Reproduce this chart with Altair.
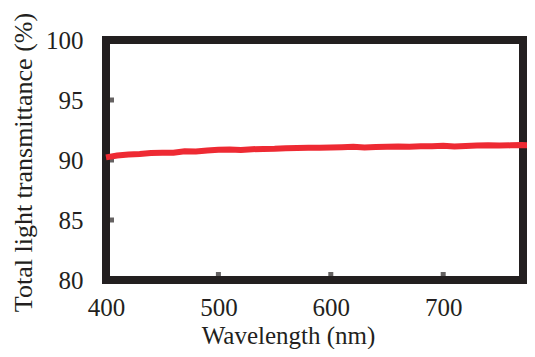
import altair as alt
import pandas as pd

wavelength = [400, 410, 420, 430, 440, 450, 460, 470, 480, 490,
              500, 510, 520, 530, 540, 550, 560, 570, 580, 590,
              600, 610, 620, 630, 640, 650, 660, 670, 680, 690,
              700, 710, 720, 730, 740, 750, 760, 770, 780]
transmittance = [90.22, 90.38, 90.45, 90.50, 90.58, 90.60, 90.60, 90.72, 90.70, 90.80,
                 90.85, 90.88, 90.84, 90.90, 90.92, 90.93, 90.98, 91.00, 91.02, 91.03,
                 91.05, 91.07, 91.10, 91.05, 91.08, 91.10, 91.12, 91.10, 91.14, 91.15,
                 91.18, 91.12, 91.16, 91.20, 91.22, 91.20, 91.22, 91.24, 91.22]
x_ticks = [400, 500, 600, 700]
y_ticks = [80, 85, 90, 95, 100]
x_inner_ticks = [500, 600, 700]
y_inner_ticks = [85, 90, 95]

df = pd.DataFrame({"w": wavelength, "t": transmittance})
xt = pd.DataFrame({"w": x_inner_ticks})
yt = pd.DataFrame({"t": y_inner_ticks})

FONT = "Liberation Serif"
TXT = "#231f20"

xscale = alt.Scale(domain=[400, 771], nice=False, zero=False)
yscale = alt.Scale(domain=[80, 100], nice=False, zero=False)

xaxis = alt.Axis(values=x_ticks, domain=False, ticks=False, tickSize=0, grid=False,
                 labelFont=FONT, labelFontSize=25, labelColor=TXT,
                 labelBaseline="alphabetic", labelPadding=35,
                 titleFont=FONT, titleFontSize=25, titleFontWeight="normal",
                 titleColor=TXT, titleBaseline="alphabetic",
                 titleX=182, titleY=63, labelFlush=False)
yaxis = alt.Axis(values=y_ticks, domain=False, ticks=False, tickSize=0, grid=False,
                 labelFont=FONT, labelFontSize=25, labelColor=TXT,
                 labelAlign="right", labelBaseline="middle",
                 labelPadding=23, titleFont=FONT, titleFontSize=26,
                 titleFontWeight="normal", titleColor=TXT,
                 titleBaseline="alphabetic", titleAngle=270,
                 titleX=-75, titleY=122, labelFlush=False)
XT = "Wavelength (nm)"
YT = "Total light transmittance (%)"

xtick = alt.Chart(xt).mark_tick(orient="vertical", color=TXT, thickness=5,
                                size=8, yOffset=-4).encode(
    x=alt.X("w:Q", scale=xscale, axis=xaxis, title=XT),
    y=alt.datum(80, scale=yscale, axis=yaxis, title=YT),
)
ytick = alt.Chart(yt).mark_tick(orient="horizontal", color=TXT, thickness=5,
                                size=8, xOffset=4).encode(
    y=alt.Y("t:Q", scale=yscale, axis=yaxis, title=YT),
    x=alt.datum(400, scale=xscale, axis=xaxis, title=XT),
)
line = alt.Chart(df).mark_line(color="#ee2a33", strokeWidth=6, clip=False).encode(
    x=alt.X("w:Q", scale=xscale, axis=xaxis, title=XT),
    y=alt.Y("t:Q", scale=yscale, axis=yaxis, title=YT),
)

chart = alt.layer(xtick, ytick, line).properties(
    width=417, height=240,
    autosize=alt.AutoSizeParams(type="none"),
    padding={"left": 98, "top": 32, "right": 4, "bottom": 69},
).configure_view(stroke=TXT, strokeWidth=8).configure_axis(
    labelFont=FONT, titleFont=FONT
)

chart.save("out.html", embed_options={"renderer": "svg", "actions": False})
